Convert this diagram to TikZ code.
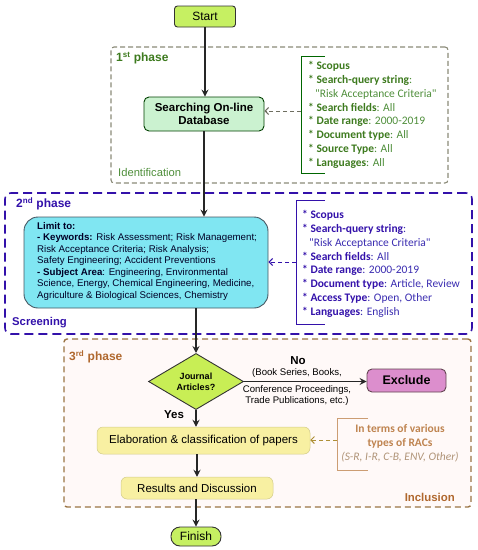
\documentclass[tikz,border=0pt]{standalone}
\usepackage{fontspec}
\setmainfont{Liberation Sans}
\newfontfamily\calfont{Carlito}
\usetikzlibrary{arrows.meta,shapes.geometric}
\definecolor{startfill}{HTML}{C6F062}
\definecolor{searchfill}{HTML}{CBF2D0}
\definecolor{cyanfill}{HTML}{80E6F2}
\definecolor{diafill}{HTML}{C8EE55}
\definecolor{exfill}{HTML}{DC8ECD}
\definecolor{yelfill}{HTML}{F8F0A2}
\definecolor{gphase}{HTML}{3D7A1E}
\definecolor{gval}{HTML}{4E8E3A}
\definecolor{gborder}{HTML}{8A8A78}
\definecolor{bphase}{HTML}{3311AA}
\definecolor{bval}{HTML}{3A2CB0}
\definecolor{brphase}{HTML}{B0682E}
\definecolor{brborder}{HTML}{9A7444}
\definecolor{brtext}{HTML}{BF8450}
\definecolor{britalic}{HTML}{B09478}
\definecolor{inclfill}{HTML}{FFF9F8}
\begin{document}
\begin{tikzpicture}[x=1pt,y=-1pt,
  box/.style={draw=black!80, line width=0.9pt, rounded corners=3pt, inner sep=0pt, align=center},
  mainarrow/.style={draw=black!85, line width=1.1pt, -{Stealth[length=7pt,width=7pt,inset=2.5pt]}},
  dasharrow/.style={line width=1pt, dash pattern=on 4pt off 3pt, -{Straight Barb[length=3.5pt,width=7pt]}},
  phaselabel/.style={font=\bfseries\fontsize{12}{14}\selectfont, anchor=west, inner sep=0pt},
  listtext/.style={anchor=north west, align=left, inner sep=0pt, font=\calfont\fontsize{11.5}{13.86}\selectfont}
]
\useasboundingbox (0,0) rectangle (478,550);

% phase frames
\node[draw=brborder, fill=inclfill, line width=1.4pt, dash pattern=on 6pt off 4pt, rounded corners=3pt,
  minimum width=407pt, minimum height=168pt, inner sep=0pt] (p3) at (267.5,423) {};
\node[draw=gborder, line width=1.1pt, dash pattern=on 5pt off 3pt, rounded corners=3pt,
  minimum width=337pt, minimum height=136pt, inner sep=0pt] (p1) at (279.5,115) {};
\node[draw=bphase, line width=1.6pt, dash pattern=on 9pt off 5pt, rounded corners=6pt,
  minimum width=467pt, minimum height=141pt, inner sep=0pt] (p2) at (238.5,263.5) {};

% phase labels
\node[phaselabel, text=gphase] (l1) at (116,58) {1\textsuperscript{st} phase};
\node[anchor=west, inner sep=0pt, text=gval, font=\fontsize{11.2}{13}\selectfont] (l1b) at (118,172) {Identification};
\node[phaselabel, text=bphase] (l2) at (16,204) {2\textsuperscript{nd} phase};
\node[anchor=west, inner sep=0pt, text=bphase, font=\bfseries\fontsize{11.3}{13}\selectfont] (l2b) at (12,323) {Screening};
\node[phaselabel, text=brphase] (l3) at (69,357) {3\textsuperscript{rd} phase};
\node[anchor=east, inner sep=0pt, text=brphase, font=\bfseries\fontsize{11.4}{13}\selectfont] (l3b) at (455,497) {Inclusion};

% main nodes
\node[box, fill=startfill, minimum width=61pt, minimum height=21pt, font=\fontsize{12}{14}\selectfont] (start) at (205,16.5) {Start};
\node[box, fill=searchfill, draw=black!75!green, rounded corners=5pt, minimum width=120pt, minimum height=34pt,
  font=\bfseries\fontsize{11.5}{13}\selectfont] (search) at (204,114) {Searching On-line\\Database};
\node[box, fill=cyanfill, draw=black!70!cyan, rounded corners=14pt, minimum width=244pt, minimum height=91pt] (cyanb) at (146,262.5) {};
\node[anchor=north west, inner sep=0pt, align=left, text=black!85!blue, font=\fontsize{9.7}{11.5}\selectfont] (cyantext) at (37,222)
 {\textbf{Limit to:}\\
  \textbf{- Keywords:} Risk Assessment; Risk Management;\\
  Risk Acceptance Criteria; Risk Analysis;\\
  Safety Engineering; Accident Preventions\\
  \textbf{- Subject Area}: Engineering, Environmental\\
  Science, Energy, Chemical Engineering, Medicine,\\
  Agriculture \& Biological Sciences, Chemistry};
\node[draw=black!80, line width=0.9pt, fill=diafill, shape=diamond, inner sep=0pt, minimum width=95pt, minimum height=47pt,
  align=center, font=\bfseries\fontsize{9}{11}\selectfont] (dia) at (196,381.5) {Journal\\Articles?};
\node[box, fill=exfill, draw=black!70!magenta, rounded corners=5pt, minimum width=79pt, minimum height=23pt,
  font=\bfseries\fontsize{12.5}{14}\selectfont] (excl) at (406.5,380.5) {Exclude};
\node[box, fill=yelfill, draw=yelfill!85!black, line width=0.5pt, rounded corners=6pt, minimum width=213pt, minimum height=27pt,
  font=\fontsize{11.5}{13}\selectfont] (elab) at (203.5,440.5) {Elaboration \& classification of papers};
\node[box, fill=yelfill, draw=yelfill!85!black, line width=0.5pt, rounded corners=6pt, minimum width=152pt, minimum height=22pt,
  font=\fontsize{11.5}{13}\selectfont] (res) at (197,488) {Results and Discussion};
\node[box, fill=startfill, rounded corners=9pt, minimum width=50pt, minimum height=19pt,
  font=\fontsize{12}{14}\selectfont] (fin) at (196,536.5) {Finish};

% labels around decision
\node[inner sep=0pt, font=\bfseries\fontsize{11.5}{13}\selectfont] (no) at (298,361) {No};
\node[inner sep=0pt, font=\fontsize{9.6}{11}\selectfont] (no1) at (297,373) {(Book Series, Books,};
\node[inner sep=0pt, align=center, font=\fontsize{9.6}{11.5}\selectfont] (no2) at (297,395.5) {Conference Proceedings,\\Trade Publications, etc.)};
\node[inner sep=0pt, font=\bfseries\fontsize{11.5}{13}\selectfont] (yes) at (174,415) {Yes};

% bracket lists
\coordinate (b1t) at (325,56); \coordinate (b1a) at (301,56); \coordinate (b1b) at (301,173); \coordinate (b1e) at (325,173);
\draw[draw=black!60!green, line width=0.9pt] (b1t) -- (b1a) -- (b1b) -- (b1e);
\node[listtext, text=gval] (list1) at (308,61)
 {\textcolor{gphase}{\textbf{* Scopus}}\\
  \textcolor{gphase}{\textbf{* Search-query string}}:\\
  \hspace*{7pt}"Risk Acceptance Criteria"\\
  \textcolor{gphase}{\textbf{* Search fields}}: All\\
  \textcolor{gphase}{\textbf{* Date range}}: 2000-2019\\
  \textcolor{gphase}{\textbf{* Document type}}: All\\
  \textcolor{gphase}{\textbf{* Source Type}}: All\\
  \textcolor{gphase}{\textbf{* Languages}}: All};
\coordinate (b1m) at (301,111);

\coordinate (b2t) at (325,200); \coordinate (b2a) at (296,200); \coordinate (b2b) at (296,324); \coordinate (b2e) at (325,324);
\draw[draw=bphase, line width=0.9pt] (b2t) -- (b2a) -- (b2b) -- (b2e);
\node[listtext, text=bval] (list2) at (302,210)
 {\textcolor{bphase}{\textbf{* Scopus}}\\
  \textcolor{bphase}{\textbf{* Search-query string}}:\\
  \hspace*{7pt}"Risk Acceptance Criteria"\\
  \textcolor{bphase}{\textbf{* Search fields}}: All\\
  \textcolor{bphase}{\textbf{* Date range}}: 2000-2019\\
  \textcolor{bphase}{\textbf{* Document type}}: Article, Review\\
  \textcolor{bphase}{\textbf{* Access Type}}: Open, Other\\
  \textcolor{bphase}{\textbf{* Languages}}: English};
\coordinate (b2m) at (296,262);

\coordinate (b3t) at (368,418); \coordinate (b3a) at (337,418); \coordinate (b3b) at (337,470); \coordinate (b3e) at (368,470);
\draw[draw=brtext!80, line width=0.9pt] (b3t) -- (b3a) -- (b3b) -- (b3e);
\node[inner sep=0pt, align=center, font=\calfont\fontsize{11.5}{13.8}\selectfont] (list3) at (400,443)
 {\textcolor{brtext}{\textbf{In terms of various}}\\
  \textcolor{brtext}{\textbf{types of RACs}}\\
  \textcolor{britalic}{\textit{(S-R, I-R, C-B, ENV, Other)}}};
\coordinate (b3m) at (337,440);

% connectors
\draw[mainarrow] (start.south) -- (start.south |- search.north);
\draw[mainarrow] (search.south) -- (search.south |- cyanb.north);
\draw[mainarrow] (dia.north |- cyanb.south) -- (dia.north);
\draw[mainarrow] (dia.east) -- (excl.west |- dia.east);
\draw[mainarrow] (dia.south) -- (dia.south |- elab.north);
\draw[mainarrow] (res.north |- elab.south) -- (res.north);
\draw[mainarrow] (fin.north |- res.south) -- (fin.north);

\draw[dasharrow, draw=gborder!80!black] (b1m) -- (search.east |- b1m);
\draw[dasharrow, draw=bphase] (b2m) -- (cyanb.east |- b2m);
\draw[dasharrow, draw=brborder!80!yellow] (b3m) -- (elab.east |- b3m);
\end{tikzpicture}
\end{document}
